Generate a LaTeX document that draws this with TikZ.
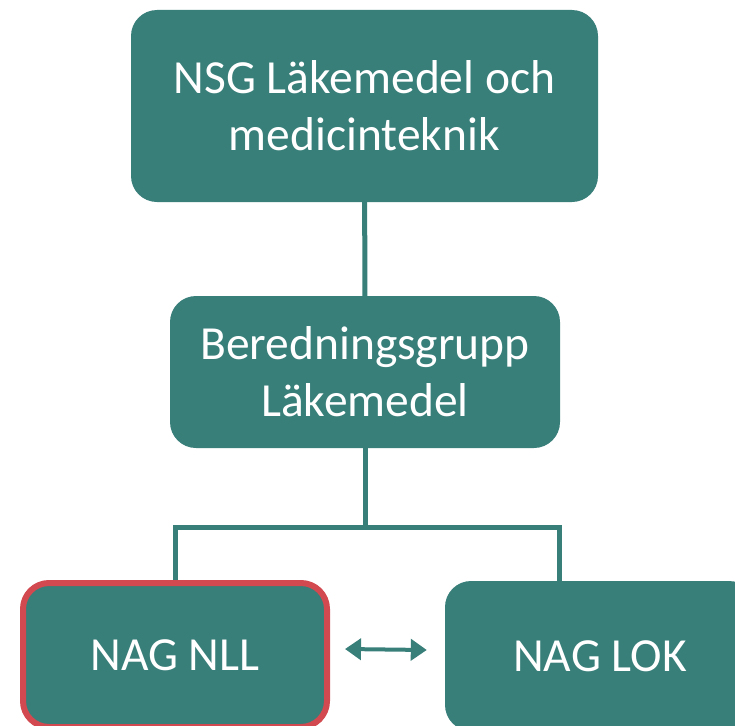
\documentclass[tikz,border=0pt]{standalone}
\usepackage{fontspec}
\setmainfont{Carlito}
\usepackage{tikz}
\usetikzlibrary{arrows.meta,positioning}
\definecolor{tealbox}{RGB}{56,126,121}
\definecolor{redframe}{RGB}{210,74,79}

\begin{document}
\begin{tikzpicture}[x=1pt, y=-1pt,
    orgbox/.style={fill=tealbox, text=white, rounded corners=26pt, align=center, inner sep=0pt,
        font=\fontsize{47.5}{57}\selectfont},
    conn/.style={draw=tealbox, line width=5pt},
    dblarrow/.style={draw=tealbox, line width=4pt, {Triangle[length=16pt,width=21pt]}-{Triangle[length=16pt,width=21pt]}}]
    \useasboundingbox (0,0) rectangle (735,725);
    \node[orgbox, minimum width=467pt, minimum height=192pt] (nsg) at (364.5,106) {NSG Läkemedel och\\medicinteknik};
    \node[orgbox, minimum width=390pt, minimum height=152pt] (bg) at (365,372) {Beredningsgrupp\\Läkemedel};
    
    \node[orgbox, draw=redframe, line width=6pt, minimum width=304pt, minimum height=144pt] (nll) at (175,655) {NAG NLL};
    \node[orgbox, minimum width=310pt, minimum height=150pt] (lok) at (600,656) {NAG LOK};
    
    \coordinate (fork) at (365,527);
    \coordinate (lokdrop) at (559,582);
    \coordinate (arrl) at ([xshift=15pt,yshift=6pt]nll.east);
    \coordinate (arrr) at ([xshift=-18pt,yshift=6pt]lok.west);
    
    \draw[conn] (nsg) -- (bg);
    \draw[conn] (bg) -- (fork);
    \draw[conn] (nll.north) |- (fork) -| (lokdrop);
    
    \draw[dblarrow] (arrl) -- (arrr);
\end{tikzpicture}
\end{document}
